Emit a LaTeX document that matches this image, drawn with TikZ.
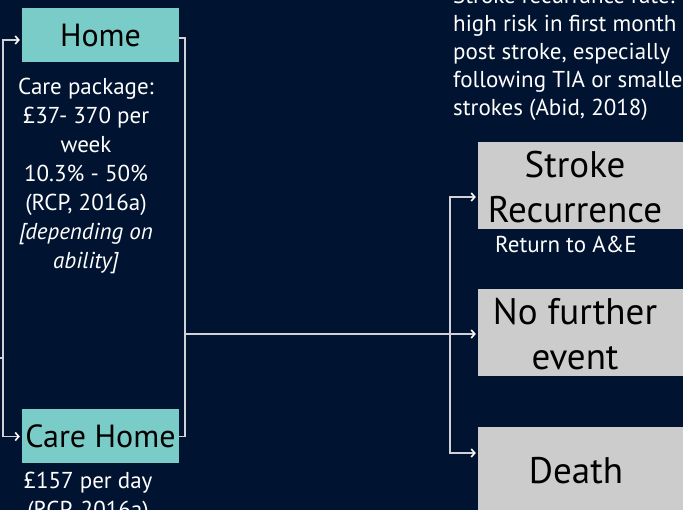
\documentclass[tikz,border=0pt]{standalone}
\usepackage{fontspec}
\setmainfont{PT Sans}
\usetikzlibrary{arrows.meta,calc}
\definecolor{navy}{HTML}{001330}
\definecolor{boxteal}{HTML}{7ACCC8}
\definecolor{boxgrey}{HTML}{CCCCCC}
\definecolor{linegrey}{HTML}{D0D2D8}
\begin{document}
\begin{tikzpicture}[x=1pt,y=-1pt,
  conn/.style={draw=linegrey, line width=1.4pt},
  arr/.style={conn, shorten >=2pt, -{Straight Barb[length=3.5pt,width=8pt,line width=1.6pt,color=white]}},
  place/.style={fill=boxteal, draw=none, minimum width=157pt, minimum height=54pt, inner sep=0pt, font=\fontsize{32}{34}\selectfont, text=black},
  outcome/.style={fill=boxgrey, draw=none, minimum width=215pt, minimum height=87pt, inner sep=0pt},
  big/.style={font=\fontsize{37}{45}\selectfont, align=center, text=black, inner sep=0pt},
  note/.style={text=white, font=\fontsize{23}{29}\selectfont, align=center, inner sep=0pt}]
\useasboundingbox (0,0) rectangle (683,510);
\fill[navy] (0,0) rectangle (683,510);
\clip (0,0) rectangle (683,510);

% places of care
\node[place] (home) at (100.5,35) {Home};
\node[place] (care) at (100.5,436.5) {Care Home};

% outcomes
\node[outcome] (recur) at (585.5,186) {};
\node[outcome] (nofurther) at (585.5,332.5) {};
\node[outcome, minimum height=100pt] (death) at (585.5,477) {};
\node[big] (recurT) at (575,187.5) {Stroke\\Recurrence};
\node[big] (nofurtherT) at (575,334) {No further\\event};
\node[big] (deathT) at (576,471) {Death};

% notes
\node[note] (homeNote) at (86,175.5) {Care package:\\£37- 370 per\\week\\10.3\% - 50\%\\(RCP, 2016a)\\\textit{[depending on}\\\textit{ability]}};
\node[note] (careNote) at (88,497) {£157 per day\\(RCP, 2016a)};
\node[note] (aeNote) at (566,244) {Return to A\&E};
\node[note, align=left, anchor=west, font=\fontsize{23}{28}\selectfont] (riskNote) at (453,54) {Stroke recurrance rate:\\high risk in first month\\post stroke, especially\\following TIA or smaller\\strokes (Abid, 2018)};

% connectors
\coordinate (inL) at (0,358);
\coordinate (jL) at (3,358);
\coordinate (jR) at (185,334);
\coordinate (jO) at (450,334);
\draw[conn] (inL) -- (jL);
\draw[arr] (jL) |- ($(home.west)+(0,5)$);
\draw[arr] (jL) |- (care.west);
\draw[conn] ($(home.east)+(0,3)$) -| (jR);
\draw[conn] (care.east) -| (jR);
\draw[arr] (jR) -- (jR -| nofurther.west);
\draw[arr] (jO) |- ($(recur.west)+(0,11)$);
\draw[arr] (jO) |- ($(death.west)+(0,-24)$);
\end{tikzpicture}
\end{document}
